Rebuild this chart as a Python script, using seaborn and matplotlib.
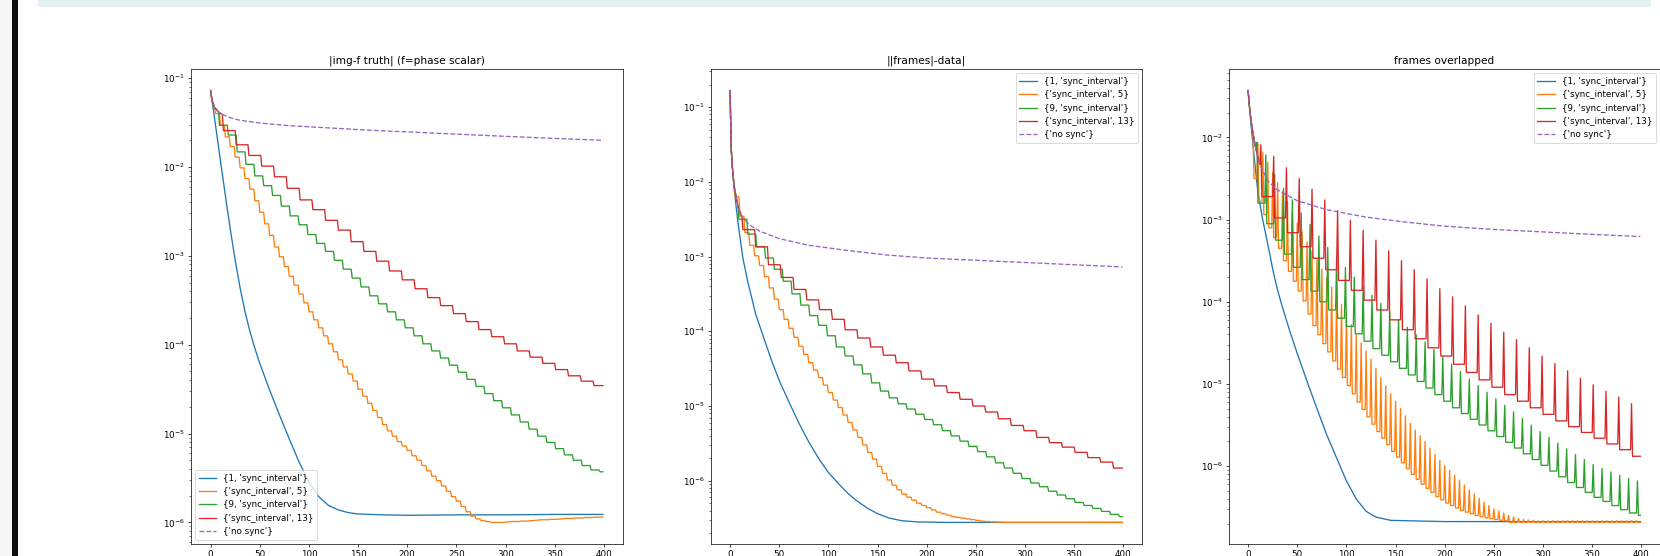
import numpy as np
import seaborn as sns
import matplotlib
matplotlib.use("Agg")
from matplotlib import pyplot as plt
from matplotlib.patches import Rectangle

W, H = 1660, 556
DPI = 63
LAST = 399

labels = ["{1, 'sync_interval'}", "{'sync_interval', 5}", "{9, 'sync_interval'}",
          "{'sync_interval', 13}", "{'no sync'}"]
colors = ["#1f77b4", "#ff7f0e", "#2ca02c", "#d62728", "#9467bd"]
titles = ["|img-f truth| (f=phase scalar)", "||frames|-data|", "frames overlapped"]

# all values are log10 of the error
purple_x = [0, 1, 2, 4, 8, 12, 20, 30, 50, 80, 120, 160, 200, 250, 300, 350, 399]

# ---- panel 1: |img-f truth| ----
p1_purple = [-1.14, -1.22, -1.27, -1.33, -1.38, -1.41, -1.445, -1.475, -1.505, -1.535,
             -1.56, -1.585, -1.605, -1.63, -1.655, -1.678, -1.70]
p1_blue_x = [0, 5, 10, 15, 20, 25, 30, 35, 40, 45, 50, 60, 70, 80, 90, 100, 110, 120,
             130, 140, 150, 175, 200, 250, 300, 350, 399]
p1_blue = [-1.14, -1.53, -1.93, -2.32, -2.70, -3.05, -3.36, -3.63, -3.85, -4.04, -4.21,
           -4.51, -4.79, -5.06, -5.32, -5.55, -5.71, -5.81, -5.86, -5.89, -5.905, -5.915,
           -5.92, -5.915, -5.915, -5.91, -5.91]
p1_orange = [-1.40, -1.53, -1.66, -1.77, -1.89, -2.01, -2.13, -2.25, -2.38, -2.51,
             -2.64, -2.77, -2.90, -3.01, -3.12, -3.23, -3.33, -3.43, -3.53, -3.63,
             -3.72, -3.81, -3.90, -3.99, -4.08, -4.17, -4.25, -4.33, -4.41, -4.50,
             -4.58, -4.66, -4.74, -4.82, -4.90, -4.97, -5.03, -5.09, -5.14, -5.19,
             -5.25, -5.30, -5.36, -5.42, -5.48, -5.53, -5.59, -5.65, -5.71, -5.76,
             -5.82, -5.88, -5.93, -5.96, -5.98, -5.99, -6.00, -6.00, -6.00, -5.995,
             -5.99, -5.99, -5.985, -5.985, -5.98, -5.975, -5.97, -5.97, -5.965, -5.965,
             -5.96, -5.955, -5.955, -5.95, -5.95, -5.945, -5.945, -5.94, -5.94]
p1_green = [-1.53, -1.64, -1.83, -1.97, -2.10, -2.21, -2.32, -2.44, -2.55, -2.65,
            -2.76, -2.86, -2.95, -3.05, -3.15, -3.25, -3.35, -3.45, -3.54, -3.63,
            -3.72, -3.81, -3.90, -3.99, -4.07, -4.15, -4.23, -4.31, -4.39, -4.47,
            -4.55, -4.63, -4.71, -4.79, -4.87, -4.95, -5.03, -5.10, -5.17, -5.24,
            -5.30, -5.36, -5.41, -5.43]
p1_red = [-1.59, -1.75, -1.87, -1.99, -2.11, -2.24, -2.37, -2.48, -2.60, -2.71,
          -2.84, -2.95, -3.06, -3.17, -3.27, -3.37, -3.47, -3.56, -3.65, -3.74,
          -3.83, -3.91, -3.99, -4.07, -4.14, -4.21, -4.28, -4.35, -4.41, -4.46]

# ---- panel 2: ||frames|-data| ----
p2_purple = [-0.78, -1.52, -1.76, -2.05, -2.33, -2.47, -2.58, -2.66, -2.76, -2.85,
             -2.92, -2.98, -3.02, -3.05, -3.08, -3.11, -3.14]
p2_blue_x = [0, 1, 2, 4, 6, 8, 10, 13, 18, 26, 35, 43, 50, 60, 70, 80, 90, 100, 111,
             120, 128, 140, 150, 162, 175, 190, 220, 300, 399]
p2_blue = [-0.78, -1.52, -1.76, -2.07, -2.32, -2.54, -2.74, -3.02, -3.34, -3.77, -4.12,
           -4.42, -4.66, -4.95, -5.23, -5.48, -5.70, -5.89, -6.05, -6.17, -6.26, -6.37,
           -6.44, -6.50, -6.535, -6.55, -6.557, -6.557, -6.557]
p2_orange = [-2.20, -2.46, -2.68, -2.85, -2.99, -3.12, -3.27, -3.42, -3.57, -3.71,
             -3.84, -3.96, -4.08, -4.20, -4.31, -4.42, -4.52, -4.62, -4.72, -4.82,
             -4.92, -5.02, -5.12, -5.22, -5.32, -5.42, -5.52, -5.62, -5.71, -5.81,
             -5.90, -5.99, -6.06, -6.12, -6.18, -6.22, -6.26, -6.30, -6.33, -6.36,
             -6.39, -6.42, -6.44, -6.46, -6.48, -6.49, -6.50, -6.51, -6.52, -6.53,
             -6.54, -6.545, -6.55, -6.553, -6.555, -6.557, -6.557, -6.557, -6.557, -6.557,
             -6.557, -6.557, -6.557, -6.557, -6.557, -6.557, -6.557, -6.557, -6.557, -6.557,
             -6.557, -6.557, -6.557, -6.557, -6.557, -6.557, -6.557, -6.557, -6.557]
p2_green = [-2.50, -2.70, -2.87, -3.02, -3.17, -3.33, -3.50, -3.65, -3.79, -3.92,
            -4.06, -4.21, -4.33, -4.45, -4.57, -4.69, -4.80, -4.89, -4.97, -5.04,
            -5.11, -5.18, -5.25, -5.33, -5.40, -5.47, -5.54, -5.61, -5.68, -5.76,
            -5.83, -5.90, -5.97, -6.03, -6.08, -6.14, -6.19, -6.24, -6.29, -6.33,
            -6.37, -6.41, -6.45, -6.48]
p2_red = [-2.64, -2.87, -3.11, -3.28, -3.44, -3.58, -3.71, -3.84, -3.98, -4.09,
          -4.21, -4.32, -4.42, -4.53, -4.64, -4.73, -4.82, -4.91, -5.00, -5.08,
          -5.17, -5.26, -5.33, -5.42, -5.49, -5.55, -5.62, -5.69, -5.75, -5.83]

# ---- panel 3: frames overlapped (peak at each sync, flat level after it) ----
p3_purple = [-1.43, -1.58, -1.70, -1.88, -2.15, -2.33, -2.53, -2.64, -2.77, -2.88,
             -2.97, -3.03, -3.08, -3.12, -3.15, -3.18, -3.206]
p3_blue_x = [0, 3, 6, 10, 15, 20, 26, 30, 35, 43, 50, 60, 70, 80, 90, 100, 110, 120,
             130, 145, 200, 300, 399]
p3_blue = [-1.43, -1.85, -2.22, -2.67, -3.01, -3.30, -3.66, -3.86, -4.07, -4.38, -4.63,
           -4.97, -5.30, -5.62, -5.90, -6.18, -6.40, -6.55, -6.62, -6.66, -6.675,
           -6.675, -6.675]
p3_orange_peak = [-1.97, -2.08, -2.18, -2.30, -2.43, -2.55, -2.66, -2.78, -2.92, -3.04,
                  -3.15, -3.27, -3.38, -3.49, -3.60, -3.71, -3.82, -3.93, -4.03, -4.13,
                  -4.28, -4.40, -4.50, -4.60, -4.70, -4.81, -4.92, -5.02, -5.12, -5.21,
                  -5.30, -5.39, -5.48, -5.56, -5.63, -5.70, -5.78, -5.86, -5.93, -5.99,
                  -6.05, -6.11, -6.17, -6.23, -6.29, -6.34, -6.39, -6.44, -6.48, -6.52,
                  -6.545, -6.57, -6.60, -6.62, -6.64, -6.65, -6.655, -6.66, -6.665, -6.665,
                  -6.665, -6.665, -6.665, -6.665, -6.665, -6.665, -6.665, -6.665, -6.665, -6.665,
                  -6.665, -6.665, -6.665, -6.665, -6.665, -6.665, -6.665, -6.665, -6.665]
p3_orange_level = [-2.50, -2.78, -2.94, -3.10, -3.22, -3.35, -3.50, -3.63, -3.75, -3.87,
                   -3.99, -4.15, -4.29, -4.40, -4.51, -4.61, -4.72, -4.82, -4.92, -5.02,
                   -5.12, -5.22, -5.31, -5.40, -5.49, -5.58, -5.66, -5.74, -5.82, -5.89,
                   -5.96, -6.03, -6.10, -6.16, -6.22, -6.27, -6.32, -6.37, -6.41, -6.45,
                   -6.48, -6.51, -6.54, -6.56, -6.58, -6.60, -6.615, -6.63, -6.64, -6.65,
                   -6.66, -6.665, -6.685, -6.685, -6.685, -6.685, -6.685, -6.685, -6.685, -6.685,
                   -6.685, -6.685, -6.685, -6.685, -6.685, -6.685, -6.685, -6.685, -6.685, -6.685,
                   -6.685, -6.685, -6.685, -6.685, -6.685, -6.685, -6.685, -6.685, -6.685]
p3_green_peak = [-2.06, -2.21, -2.45, -2.62, -2.76, -2.92, -3.06, -3.20, -3.34, -3.46,
                 -3.58, -3.70, -3.81, -3.92, -4.02, -4.12, -4.22, -4.31, -4.40, -4.49,
                 -4.58, -4.67, -4.76, -4.85, -4.94, -5.02, -5.10, -5.18, -5.26, -5.34,
                 -5.42, -5.50, -5.58, -5.65, -5.72, -5.79, -5.86, -5.92, -5.98, -6.03,
                 -6.07, -6.11, -6.15, -6.18]
p3_green_level = [-2.80, -3.05, -3.25, -3.42, -3.58, -3.73, -3.87, -4.00, -4.10, -4.20,
                  -4.30, -4.39, -4.48, -4.57, -4.65, -4.73, -4.81, -4.89, -4.97, -5.05,
                  -5.13, -5.21, -5.29, -5.36, -5.43, -5.50, -5.57, -5.64, -5.71, -5.78,
                  -5.85, -5.92, -5.99, -6.06, -6.13, -6.20, -6.26, -6.32, -6.38, -6.43,
                  -6.48, -6.53, -6.57, -6.60]
p3_red_peak = [-2.09, -2.23, -2.37, -2.50, -2.63, -2.76, -2.89, -3.01, -3.13, -3.25,
               -3.38, -3.50, -3.61, -3.72, -3.84, -3.94, -4.05, -4.16, -4.26, -4.37,
               -4.46, -4.56, -4.66, -4.75, -4.84, -4.93, -5.01, -5.09, -5.16, -5.24]
p3_red_level = [-2.72, -2.98, -3.16, -3.33, -3.47, -3.61, -3.74, -3.86, -3.98, -4.10,
                -4.22, -4.34, -4.45, -4.56, -4.66, -4.76, -4.86, -4.95, -5.04, -5.13,
                -5.21, -5.29, -5.37, -5.45, -5.52, -5.59, -5.66, -5.73, -5.80, -5.88]


def stairs(n, head_y, tops, levels=None):
    # before the first sync a run follows the no-sync curve
    xs = [x for x in purple_x if x < n]
    ys = list(head_y[:len(xs)])
    for k, top in enumerate(tops, start=1):
        x0 = n * k
        x1 = min(x0 + n - 1, LAST)
        lvl = top if levels is None else levels[k - 1]
        xs.append(x0)
        ys.append(top)
        if levels is not None:
            xs.append(x0 + 1)
            ys.append(lvl)
        if x1 > xs[-1]:
            xs.append(x1)
            ys.append(lvl)
    return np.array(xs), 10.0 ** np.array(ys)


def smooth(xs, ys):
    return np.array(xs), 10.0 ** np.array(ys)


panels = [
    [smooth(p1_blue_x, p1_blue), stairs(5, p1_purple, p1_orange),
     stairs(9, p1_purple, p1_green), stairs(13, p1_purple, p1_red),
     smooth(purple_x, p1_purple)],
    [smooth(p2_blue_x, p2_blue), stairs(5, p2_purple, p2_orange),
     stairs(9, p2_purple, p2_green), stairs(13, p2_purple, p2_red),
     smooth(purple_x, p2_purple)],
    [smooth(p3_blue_x, p3_blue), stairs(5, p3_purple, p3_orange_peak, p3_orange_level),
     stairs(9, p3_purple, p3_green_peak, p3_green_level),
     stairs(13, p3_purple, p3_red_peak, p3_red_level),
     smooth(purple_x, p3_purple)],
]
legend_loc = ["lower left", "upper right", "upper right"]
ax_left = [191, 710.5, 1228.5]

fig = plt.figure(figsize=(W / DPI, H / DPI), dpi=DPI, facecolor="white")

# bits of the notebook screen around the figure
fig.add_artist(Rectangle((0, 0), 12 / W, 1, transform=fig.transFigure,
                         facecolor="#f7f7f7", edgecolor="none"))
fig.add_artist(Rectangle((12 / W, 0), 5.5 / W, 1, transform=fig.transFigure,
                         facecolor="#101010", edgecolor="none"))
fig.add_artist(Rectangle((38 / W, 1 - 6.5 / H), (1651 - 38) / W, 6.5 / H,
                         transform=fig.transFigure, facecolor="#e6f1f3", edgecolor="none"))

for i, series in enumerate(panels):
    ax = fig.add_axes([ax_left[i] / W, 12 / H, 431.5 / W, 475 / H])
    for (xs, ys), label, color in zip(series, labels, colors):
        ls = "--" if label == "{'no sync'}" else "-"
        sns.lineplot(x=xs, y=ys, ax=ax, color=color, label=label, linestyle=ls,
                     linewidth=1.5, estimator=None, sort=False)
    ax.set_yscale("log")
    ax.set_title(titles[i])
    ax.legend(loc=legend_loc[i])

fig.savefig("out.png", dpi=DPI)
